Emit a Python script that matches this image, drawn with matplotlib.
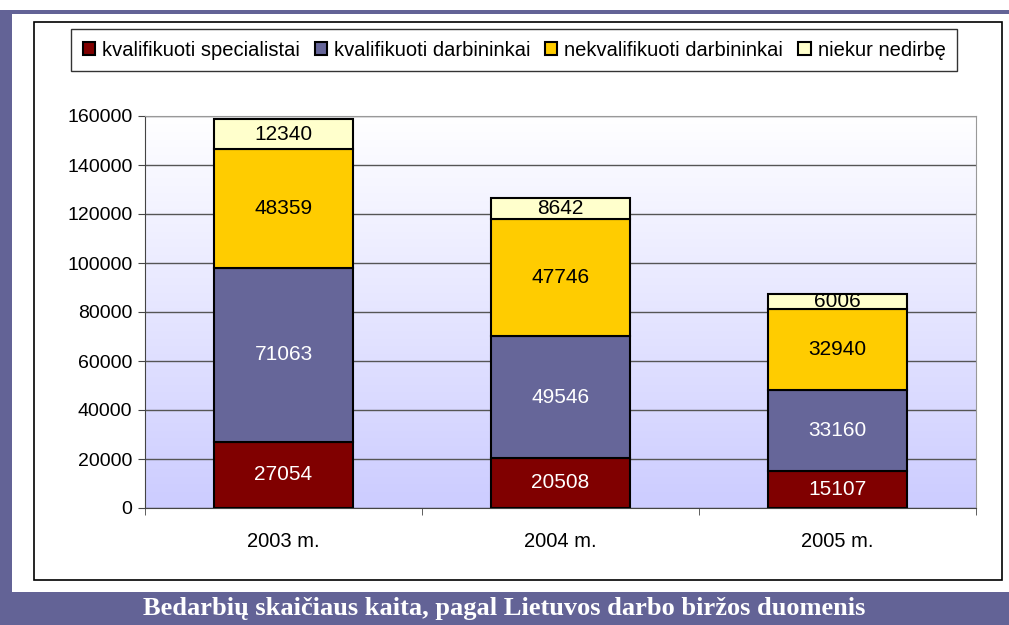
import matplotlib
matplotlib.use("Agg")
import matplotlib.pyplot as plt
from matplotlib.patches import Rectangle
import numpy as np

years = ["2003 m.", "2004 m.", "2005 m."]
series_names = ["kvalifikuoti specialistai", "kvalifikuoti darbininkai",
                "nekvalifikuoti darbininkai", "niekur nedirbę"]
specialistai = [27054, 20508, 15107]
darbininkai = [71063, 49546, 33160]
nekvalifikuoti = [48359, 47746, 32940]
nedirbe = [12340, 8642, 6006]
yticks = [0, 20000, 40000, 60000, 80000, 100000, 120000, 140000, 160000]
title = "Bedarbių skaičiaus kaita, pagal Lietuvos darbo biržos duomenis"

colors = ["#800000", "#666699", "#FFCC00", "#FFFFCC"]
text_colors = ["white", "white", "black", "black"]
purple = "#636396"

W, H = 1009, 625
fig = plt.figure(figsize=(W / 100, H / 100), dpi=100)
fig.patch.set_facecolor("white")


def px_rect(x0, y0, x1, y1, **kw):
    # pixel box (top-left origin) -> figure fraction rectangle
    r = Rectangle((x0 / W, 1 - y1 / H), (x1 - x0) / W, (y1 - y0) / H,
                  transform=fig.transFigure, **kw)
    fig.add_artist(r)
    return r


# frame decoration
px_rect(0, 10, 12, 625, facecolor=purple, edgecolor="none", zorder=0)
px_rect(0, 10, 1009, 14, facecolor=purple, edgecolor="none", zorder=0)
px_rect(0, 592, 1009, 625, facecolor=purple, edgecolor="none", zorder=0)
px_rect(34, 22, 1002, 580, facecolor="white", edgecolor="black", linewidth=1.2, zorder=0)
fig.text(0.5, 1 - 609 / H, title, ha="center", va="center", color="white",
         fontsize=19, fontweight="bold", family="Liberation Serif")

ax = fig.add_axes([145 / W, 1 - 508 / H, (976 - 145) / W, (508 - 116) / H])
ax.set_zorder(2)

# gradient background
grad = np.linspace(0, 1, 256).reshape(-1, 1)
top = np.array([1.0, 1.0, 1.0])
bot = np.array([0.80, 0.80, 1.0])
img = top + (bot - top) * grad[:, :, None] * np.ones((1, 1, 3))
ax.imshow(img, extent=[-0.5, 2.5, 0, 160000], aspect="auto", zorder=0)

x = np.arange(len(years))
data = [specialistai, darbininkai, nekvalifikuoti, nedirbe]
bottom = np.zeros(len(years))
handles = []
for vals, c, tc, name in zip(data, colors, text_colors, series_names):
    vals = np.array(vals)
    b = ax.bar(x, vals, 0.505, bottom=bottom, color=c, edgecolor="black",
               linewidth=1.5, label=name, zorder=3)
    handles.append(b)
    for xi, v, bt in zip(x, vals, bottom):
        ax.text(xi, bt + v / 2, str(v), ha="center", va="center", color=tc,
                fontsize=15, family="Liberation Sans", zorder=4)
    bottom += vals

ax.set_xlim(-0.5, 2.5)
ax.set_ylim(0, 160000)
ax.set_yticks(yticks)
ax.set_yticklabels([str(t) for t in yticks], family="Liberation Sans", fontsize=14)
ax.set_xticks(x)
ax.set_xticklabels(years, family="Liberation Sans", fontsize=14.5)
ax.tick_params(axis="x", length=0, pad=17)
ax.set_xticks([-0.5, 0.5, 1.5, 2.5], minor=True)
ax.tick_params(axis="x", which="minor", length=5, color="#444444")
ax.tick_params(axis="y", length=5, color="#444444", pad=4)
ax.grid(axis="y", color="#555555", linewidth=1, zorder=1)
ax.set_axisbelow(True)
for s in ["top", "right"]:
    ax.spines[s].set_color("#999999")
for s in ["left", "bottom"]:
    ax.spines[s].set_color("#444444")

leg = fig.legend(handles=handles, labels=series_names, loc="center",
                 bbox_to_anchor=((58 + 970) / 2 / W, 1 - 50 / H), ncol=4,
                 frameon=True, fancybox=False, edgecolor="black",
                 prop={"family": "Liberation Sans", "size": 14.5},
                 handlelength=0.6, handleheight=0.6, handletextpad=0.35,
                 columnspacing=0.75, borderpad=0.55)
leg.get_frame().set_linewidth(1.0)

fig.savefig("out.png", dpi=100)
